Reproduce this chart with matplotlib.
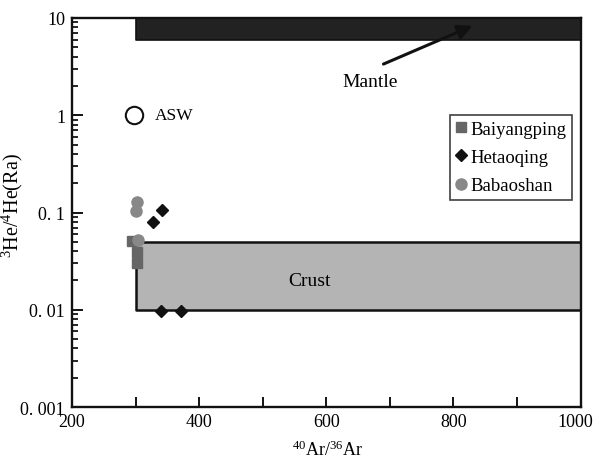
import matplotlib
matplotlib.use("Agg")
import matplotlib.pyplot as plt
from matplotlib.ticker import FixedLocator, FixedFormatter, LogLocator, NullFormatter
from matplotlib.transforms import ScaledTranslation

plt.rcParams['font.family'] = ['Liberation Serif', 'DejaVu Serif']
plt.rcParams['mathtext.fontset'] = 'custom'
plt.rcParams['mathtext.rm'] = 'Liberation Serif'
plt.rcParams['mathtext.it'] = 'Liberation Serif:italic'

# Data
baiyangping_x = [294, 302, 302]
baiyangping_y = [0.0506, 0.039, 0.030]
hetaoqing_x = [341, 328, 340, 372]
hetaoqing_y = [0.107, 0.080, 0.0098, 0.0098]
babaoshan_x = [303, 301, 304]
babaoshan_y = [0.129, 0.104, 0.052]
asw_x = [297]
asw_y = [1.0]

mantle_x = [300, 1000]
mantle_y = [6.0, 10.0]
crust_x = [300, 1000]
crust_y = [0.01, 0.05]

x_ticks = [200, 400, 600, 800, 1000]
x_tick_labels = ["200", "400", "600", "800", "1000"]
x_minor = [300, 500, 700, 900]
y_ticks = [0.001, 0.01, 0.1, 1, 10]
y_tick_labels = ["0. 001", "0. 01", "0. 1", "1", "10"]

fig = plt.figure(figsize=(5.94, 4.6), dpi=100)
ax = fig.add_axes([0.1212, 0.113, 0.8561, 0.8457])
ax.set_yscale('log')
ax.set_xlim(200, 1000)
ax.set_ylim(0.001, 10)

# Mantle band
ax.fill_between(mantle_x, mantle_y[0], mantle_y[1], facecolor='#222222',
                edgecolor='#111111', lw=1.2, zorder=1)
# Crust box
ax.fill_between(crust_x, crust_y[0], crust_y[1], facecolor='#b4b4b4',
                edgecolor='#111111', lw=1.8, zorder=1)

ax.plot(baiyangping_x, baiyangping_y, ls='none', marker='s', ms=6.5,
        color='#666666', label='Baiyangping', zorder=3)
ax.plot(hetaoqing_x, hetaoqing_y, ls='none', marker='D', ms=6.5,
        color='#111111', label='Hetaoqing', zorder=3)
ax.plot(babaoshan_x, babaoshan_y, ls='none', marker='o', ms=8,
        color='#888888', label='Babaoshan', zorder=4)
ax.plot(asw_x, asw_y, ls='none', marker='o', ms=12.5, mfc='white',
        mec='#111111', mew=1.5, zorder=3)

ax.text(331, 1.0, 'ASW', fontsize=12.5, ha='left', va='center')
ax.text(573, 0.0198, 'Crust', fontsize=14, ha='center', va='center')
ax.text(669, 2.25, 'Mantle', fontsize=14, ha='center', va='center')
ax.annotate('', xy=(830, 8.3), xytext=(690, 3.36),
            arrowprops=dict(arrowstyle='-|>', color='#111111', lw=2.2,
                            mutation_scale=22, shrinkA=0, shrinkB=0), zorder=5)

# Ticks
ax.xaxis.set_major_locator(FixedLocator(x_ticks))
ax.xaxis.set_major_formatter(FixedFormatter(x_tick_labels))
ax.xaxis.set_minor_locator(FixedLocator(x_minor))
ax.yaxis.set_major_locator(FixedLocator(y_ticks))
ax.yaxis.set_major_formatter(FixedFormatter(y_tick_labels))
ax.yaxis.set_minor_locator(LogLocator(base=10, subs=range(2, 10), numticks=20))
ax.yaxis.set_minor_formatter(NullFormatter())
ax.tick_params(axis='x', which='both', direction='in', length=7, width=1.3,
               labelsize=13, pad=4, top=False)
ax.tick_params(axis='y', which='major', direction='in', length=8, width=1.3,
               labelsize=13, pad=5, right=False)
ax.tick_params(axis='y', which='minor', direction='in', length=4, width=1.2,
               right=False)
for s in ax.spines.values():
    s.set_linewidth(1.7)
    s.set_color('#111111')

ax.set_xlabel('$^{40}$Ar/$^{36}$Ar', fontsize=13)
ax.set_ylabel('$^{3}$He/$^{4}$He(Ra)', fontsize=14.5)
ax.xaxis.set_label_coords(0.503, -0.083)
ax.yaxis.set_label_coords(-0.092, 0.52)

fig.canvas.draw()
last = ax.get_xticklabels()[-1]
last.set_transform(last.get_transform() + ScaledTranslation(-5 / 100, 0, fig.dpi_scale_trans))

leg = ax.legend(loc='upper right', bbox_to_anchor=(0.983, 0.751), borderaxespad=0,
                fontsize=13.5, frameon=True, fancybox=False, handletextpad=0.2,
                handlelength=0.6, labelspacing=0.6, borderpad=0.3, numpoints=1)
leg.get_frame().set_edgecolor('#111111')
leg.get_frame().set_linewidth(1.2)

fig.savefig('out.png', dpi=100)
